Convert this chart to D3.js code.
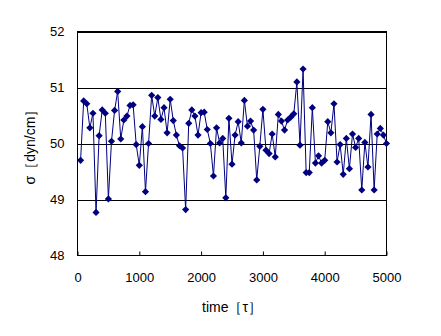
<!DOCTYPE html>
<html><head><meta charset="utf-8">
<script src="https://cdn.jsdelivr.net/npm/d3@7"></script>
<style>body{margin:0;background:#fff}svg{display:block}text{font-family:"Liberation Sans","DejaVu Sans",sans-serif}</style>
</head><body><svg id="c" width="441" height="336"></svg>
<script>
const times = d3.range(1, 101).map(k => k * 50);
const sigma = [49.70,50.76,50.71,50.28,50.54,48.77,50.14,50.60,50.54,49.01,
50.04,50.59,50.93,50.08,50.42,50.49,50.68,50.69,49.98,49.61,
50.30,49.14,50.00,50.86,50.49,50.82,50.43,50.64,50.19,50.79,
50.41,50.15,49.96,49.92,48.82,50.36,50.60,50.49,50.15,50.55,
50.56,50.25,50.00,49.42,50.28,50.01,50.09,49.03,50.45,49.63,
50.15,50.39,50.01,50.77,50.31,50.40,50.24,49.35,49.95,50.61,
49.88,49.82,50.17,49.76,50.52,50.40,50.24,50.42,50.47,50.53,
51.10,49.97,51.33,49.48,49.48,50.64,49.65,49.78,49.65,49.70,
50.39,50.19,50.71,49.67,49.98,49.45,50.09,49.55,50.17,49.93,
50.09,49.17,50.02,49.58,50.52,49.17,50.17,50.27,50.15,50.00];
const xTicks = [0,1000,2000,3000,4000,5000];
const yTicks = [48,49,50,51,52];
const xTitle = "time［τ］";
const yTitle = "σ［dyn/cm］";

const svg = d3.select("#c");
const L = 77.5, R = 386.5, T = 31.5, B = 255.5;
const x = d3.scaleLinear().domain([0,5000]).range([L,R]);
const y = d3.scaleLinear().domain([48,52]).range([B,T]);

// gridlines
svg.append("g").selectAll("line").data(yTicks.filter(v=>v>48)).join("line")
  .attr("x1",L).attr("x2",R).attr("y1",d=>Math.round(y(d))+0.5).attr("y2",d=>Math.round(y(d))+0.5)
  .attr("stroke","#000").attr("stroke-width",1);
// frame
svg.append("rect").attr("x",L).attr("y",T).attr("width",R-L).attr("height",B-T)
  .attr("fill","none").attr("stroke","#000").attr("stroke-width",1);

// x axis
const xa = svg.append("g").attr("transform",`translate(0,${B})`)
  .call(d3.axisBottom(x).tickValues(xTicks).tickFormat(d3.format("d")).tickSizeInner(-4).tickSizeOuter(0).tickPadding(17));
xa.select(".domain").remove();
xa.selectAll("text").attr("font-size",13).attr("fill","#000");
// y axis
const ya = svg.append("g").attr("transform",`translate(${L},0)`)
  .call(d3.axisLeft(y).tickValues(yTicks).tickFormat(d3.format("d")).tickSize(0).tickPadding(13));
ya.select(".domain").remove();
ya.selectAll("text").attr("font-size",13).attr("fill","#000");

// line
const line = d3.line().x((d,i)=>x(times[i])).y(d=>y(d));
svg.append("path").datum(sigma).attr("d",line).attr("fill","none")
  .attr("stroke","#000080").attr("stroke-width",1);
// markers
svg.append("g").selectAll("path").data(sigma).join("path")
  .attr("transform",(d,i)=>`translate(${x(times[i])},${y(d)})`)
  .attr("d","M0,-3.6L3.6,0L0,3.6L-3.6,0Z").attr("fill","#000080");

// titles
svg.append("text").attr("x",(L+R)/2).attr("y",312).attr("text-anchor","middle")
  .attr("font-size",14).attr("font-family","'Noto Sans CJK JP',sans-serif").text(xTitle);
svg.append("text").attr("transform",`translate(35,${(T+B)/2}) rotate(-90)`).attr("text-anchor","middle")
  .attr("font-size",14).attr("font-family","'Noto Sans CJK JP',sans-serif").text(yTitle);
</script></body></html>
